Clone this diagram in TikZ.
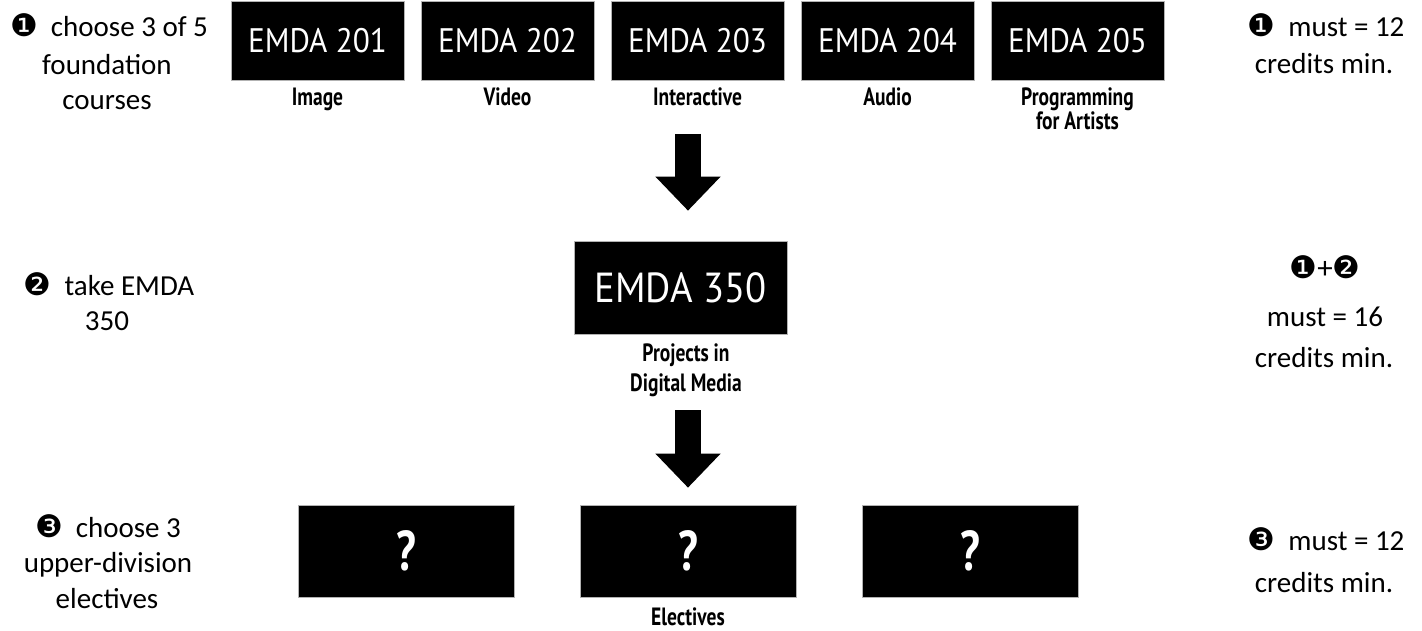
\documentclass[tikz,border=0pt]{standalone}
\usepackage{fontspec}
\usepackage{graphicx}
\setmainfont{Carlito}
\newfontfamily\boxfont{PT Sans}
\newfontfamily\dingfont{DejaVu Sans}
\usetikzlibrary{arrows.meta,calc}
\newcommand\dnum[1]{{\dingfont\fontsize{31}{31}\selectfont #1}}
\newcommand\cond[1]{\scalebox{0.78}[1]{#1}}
\newcommand\semicond[1]{\scalebox{0.92}[1]{#1}}
\begin{document}
\begin{tikzpicture}[x=1pt,y=-1pt,
  course/.style={fill=black, draw=gray!60, line width=0.6pt, minimum width=173pt, minimum height=79pt, inner sep=0pt, text=white, font=\boxfont\fontsize{34}{34}\selectfont},
  bigbox/.style={fill=black, draw=gray!60, line width=0.6pt, minimum width=213pt, minimum height=93pt, inner sep=0pt, text=white, font=\boxfont\fontsize{42}{42}\selectfont},
  qbox/.style={fill=black, draw=gray!60, line width=0.6pt, minimum width=216pt, minimum height=92pt, inner sep=0pt, text=white, font=\boxfont\bfseries\fontsize{56}{56}\selectfont},
  lab/.style={anchor=base, inner sep=0pt, align=center, font=\boxfont\bfseries\fontsize{25}{30}\selectfont},
  side/.style={anchor=base, inner sep=0pt, font=\fontsize{29}{29}\selectfont},
  bigarrow/.style={line width=26pt, -{Triangle[width=63pt,length=34pt]}}]
\useasboundingbox (0,0) rectangle (1422,631);
% top row
\node[course] (b201) at (317.5,41) {\semicond{EMDA 201}};
\node[course] (b202) at (507.5,41) {\semicond{EMDA 202}};
\node[course] (b203) at (697.5,41) {\semicond{EMDA 203}};
\node[course] (b204) at (887.5,41) {\semicond{EMDA 204}};
\node[course] (b205) at (1077.5,41) {\semicond{EMDA 205}};
\node[lab] (l201) at (317.5,106) {\cond{Image}};
\node[lab] (l202) at (507.5,106) {\cond{Video}};
\node[lab] (l203) at (697.5,106) {\cond{Interactive}};
\node[lab] (l204) at (887.5,106) {\cond{Audio}};
\node[lab] (l205) at (1077.5,130) {\cond{Programming}\\[-6pt]\cond{for Artists}};
% middle
\node[bigbox] (e350) at (680.5,287.5) {\semicond{EMDA 350}};
\node[lab] (l350) at (686,391) {\cond{Projects in}\\\cond{Digital Media}};
% bottom
\node[qbox] (q1) at (406,551) {\cond{?}};
\node[qbox] (q2) at (688,551) {\cond{?}};
\node[qbox] (q3) at (970,551) {\cond{?}};
\node[lab] (lel) at (688,625) {\cond{Electives}};
% arrows
\draw[bigarrow] ($(b203.south -| q2.north)+(0,53)$) -- ($(e350.north -| q2.north)+(0,-30)$);
\draw[bigarrow] ($(e350.south -| q2.north)+(0,76)$) -- ($(q2.north)+(0,-17)$);
% left texts
\node[side] (s1a) at (109,37) {\dnum{❶}\hspace{13pt}choose 3 of 5};
\node[side] (s1b) at (107,75) {foundation};
\node[side] (s1c) at (107,110) {courses};
\node[side] (s2a) at (109,295) {\dnum{❷}\hspace{13pt}take EMDA};
\node[side] (s2b) at (107,330) {350};
\node[side] (s3a) at (108,537) {\dnum{❸}\hspace{13pt}choose 3};
\node[side] (s3b) at (108,572) {upper-division};
\node[side] (s3c) at (107,608) {electives};
% right texts
\node[side] (r1a) at (1326,37) {\dnum{❶}\hspace{13pt}must = 12};
\node[side] (r1b) at (1324,74) {credits min.};
\node[side] (r2a) at (1325,278) {\dnum{❶}{\fontsize{31}{31}\selectfont +}\dnum{❷}};
\node[side] (r2b) at (1325,326) {must = 16};
\node[side] (r2c) at (1324,367) {credits min.};
\node[side] (r3a) at (1326,550) {\dnum{❸}\hspace{13pt}must = 12};
\node[side] (r3b) at (1324,592) {credits min.};
\end{tikzpicture}
\end{document}
